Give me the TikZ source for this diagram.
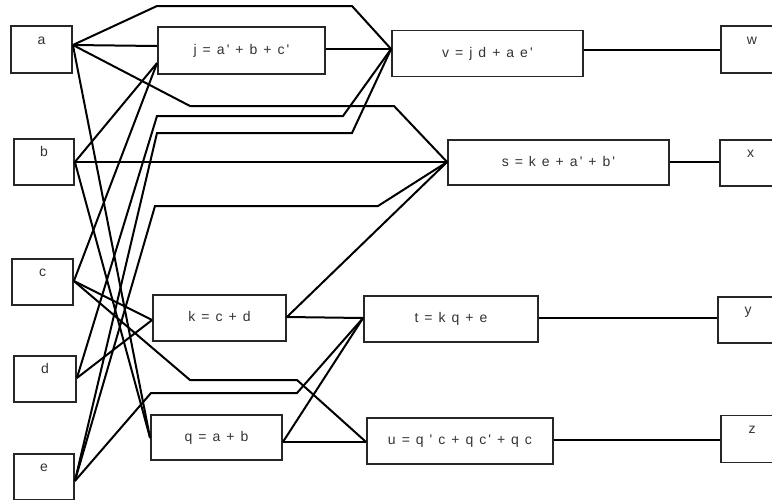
\documentclass[tikz,border=0pt]{standalone}
\usepackage{fontspec}
\newfontfamily\lblfont{Liberation Sans}[LetterSpace=15]
\usetikzlibrary{calc}
\tikzset{
  box/.style={draw=black!85, line width=1.8pt, rectangle, inner sep=0pt,
    font=\lblfont\fontsize{14}{16}\selectfont, text=black!80},
  leaf/.style={box, text height=9pt, text depth=20pt},
  gate/.style={box, text height=10pt, text depth=3pt},
  wire/.style={line width=2pt, black}
}
\begin{document}
\begin{tikzpicture}[x=1pt,y=-1pt]
\useasboundingbox (0,0) rectangle (772,499);
\fill[white] (0,0) rectangle (772,499);
\clip (0,0) rectangle (772,499);
% inputs
\node[leaf, minimum width=61pt, minimum height=47pt] (a) at (41.5,49.5) {a};
\node[leaf, minimum width=60pt, minimum height=46pt] (b) at (44,162) {b};
\node[leaf, minimum width=61pt, minimum height=46pt] (c) at (42.5,282) {c};
\node[leaf, minimum width=62pt, minimum height=46pt] (d) at (45,379) {d};
\node[leaf, minimum width=60pt, minimum height=46pt] (e) at (44,477) {e};
% outputs
\node[leaf, minimum width=62pt, minimum height=47pt] (w) at (752,49.5) {w};
\node[leaf, minimum width=61pt, minimum height=46pt] (x) at (750.5,163) {x};
\node[leaf, minimum width=60pt, minimum height=46pt] (y) at (748,320) {y};
\node[leaf, minimum width=62pt, minimum height=47pt] (z) at (752,439) {z};
% gates
\node[gate, minimum width=167pt, minimum height=47pt] (j) at (241.5,50.5) {j = a' + b + c'};
\node[gate, minimum width=191pt, minimum height=46pt] (v) at (487.5,53.5) {v = j d + a e'};
\node[gate, minimum width=221pt, minimum height=45pt] (s) at (558.5,162.5) {s = k e + a' + b'};
\node[gate, minimum width=133pt, minimum height=46pt] (k) at (219.5,318) {k = c + d};
\node[gate, minimum width=174pt, minimum height=46pt] (t) at (451,319) {t = k q + e};
\node[gate, minimum width=131pt, minimum height=45pt] (q) at (216.5,437.5) {q = a + b};
\node[gate, minimum width=186pt, minimum height=46pt] (u) at (460,441) {u = q ' c + q c' + q c};
% ports
\coordinate (ao) at (a.east |- 0,45);
\coordinate (bo) at (b.east |- 0,162);
\coordinate (co) at (c.east |- 0,281);
\coordinate (do) at (d.east |- 0,378);
\coordinate (eo) at (e.east |- 0,481);
\coordinate (ji1) at (j.west |- 0,46);
\coordinate (ji2) at (j.west |- 0,63);
\coordinate (jo) at (j.east |- 0,49);
\coordinate (vi) at (v.west |- 0,49);
\coordinate (vo) at (v.east |- 0,50);
\coordinate (si) at (s.west |- 0,162);
\coordinate (so) at (s.east |- 0,162);
\coordinate (ki) at (k.west |- 0,320);
\coordinate (ko) at (k.east |- 0,317);
\coordinate (ti) at (t.west |- 0,318);
\coordinate (tout) at (t.east |- 0,318);
\coordinate (qi) at (q.west |- 0,438);
\coordinate (qo) at (q.east |- 0,442);
\coordinate (ui) at (u.west |- 0,442);
\coordinate (uo) at (u.east |- 0,440);
\coordinate (wi) at (w.west |- 0,50);
\coordinate (xi) at (x.west |- 0,162);
\coordinate (yi) at (y.west |- 0,318);
\coordinate (zi) at (z.west |- 0,440);
% wires from inputs
\draw[wire] (ao) -- (157,6) -- (352,6) -- (vi);
\draw[wire] (ao) -- (190,106) -- (394,106) -- (si);
\draw[wire] (ao) -- (ji1);
\draw[wire] (ao) -- (qi);
\draw[wire] (bo) -- (ji2);
\draw[wire] (bo) -- (si);
\draw[wire] (bo) -- (qi);
\draw[wire] (co) -- (ji2);
\draw[wire] (co) -- (ki);
\draw[wire] (co) -- (190,380) -- (297,380) -- (ui);
\draw[wire] (do) -- (157,116) -- (343,116) -- (vi);
\draw[wire] (do) -- (ki);
\draw[wire] (eo) -- (157,133) -- (352,133) -- (vi);
\draw[wire] (eo) -- (155,206) -- (378,206) -- (si);
\draw[wire] (eo) -- (151,393) -- (297,393) -- (ti);
% wires between gates
\draw[wire] (jo) -- (vi);
\draw[wire] (ko) -- (si);
\draw[wire] (ko) -- (ti);
\draw[wire] (qo) -- (ti);
\draw[wire] (qo) -- (ui);
% wires to outputs
\draw[wire] (vo) -- (wi);
\draw[wire] (so) -- (xi);
\draw[wire] (tout) -- (yi);
\draw[wire] (uo) -- (zi);
\end{tikzpicture}
\end{document}
